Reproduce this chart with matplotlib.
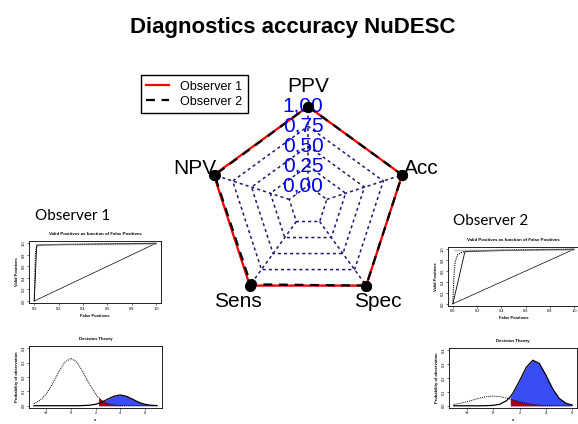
import numpy as np
import matplotlib
matplotlib.use("Agg")
import matplotlib.pyplot as plt
from matplotlib.lines import Line2D

# radar data (clockwise from top)
axis_labels = ["PPV", "Acc", "Spec", "Sens", "NPV"]
observer1 = [1.00, 1.00, 1.00, 1.00, 1.00]
observer2 = [1.00, 1.00, 1.00, 0.98, 0.99]
level_labels = ["0,00", "0,25", "0,50", "0,75", "1,00"]

# ROC insets: false positives / valid positives
roc1_fp = [0, 0.02, 1.0]
roc1_tp = [0, 0.97, 1.0]
roc1_dot_fp = [0, 0.005, 0.01, 0.02, 0.05, 0.2, 0.5, 1.0]
roc1_dot_tp = [0, 0.50, 0.85, 0.95, 0.97, 0.98, 0.99, 1.0]
roc2_fp = [0, 0.10, 1.0]
roc2_tp = [0, 0.96, 1.0]
roc2_dot_fp = [0, 0.01, 0.02, 0.04, 0.08, 0.2, 0.5, 1.0]
roc2_dot_tp = [0, 0.55, 0.78, 0.90, 0.95, 0.97, 0.99, 1.0]
diag = [0, 1]

# decision theory insets
dt1_x = [-3, -2.5, -2, -1.5, -1, -0.5, 0, 0.5, 1, 1.5, 2, 2.25, 2.5, 3, 3.5, 4,
         4.5, 5, 5.5, 6, 6.5, 7]
dt1_noise = [0.014, 0.038, 0.082, 0.151, 0.233, 0.303, 0.330, 0.303, 0.233, 0.151,
             0.082, 0.057, 0.038, 0.014, 0.005, 0.001, 0, 0, 0, 0, 0, 0]
dt1_signal = [0, 0, 0, 0, 0, 0, 0, 0, 0.001, 0.003, 0.010, 0.016, 0.024, 0.046,
              0.066, 0.075, 0.066, 0.046, 0.024, 0.010, 0.003, 0.001]
dt1_thresh = 2.25

dt2_x = [-3, -2.5, -2, -1.5, -1, -0.5, 0, 0.5, 1, 1.3, 1.5, 2, 2.5, 3, 3.5, 4,
         4.5, 5, 5.5, 6]
dt2_noise = [0.010, 0.018, 0.029, 0.043, 0.056, 0.066, 0.070, 0.066, 0.056, 0.048,
             0.043, 0.029, 0.018, 0.010, 0.005, 0.002, 0.001, 0, 0, 0]
dt2_signal = [0, 0, 0, 0, 0, 0.001, 0.003, 0.011, 0.036, 0.065, 0.092, 0.180, 0.276,
              0.328, 0.305, 0.220, 0.124, 0.054, 0.019, 0.005]
dt2_thresh = 1.3

W, H = 578, 424
fig = plt.figure(figsize=(W / 100, H / 100), dpi=100)
plt.rcParams['font.family'] = ['Liberation Sans', 'DejaVu Sans']


def px_axes(x0, y0, x1, y1):
    # axes from pixel box (top-left origin)
    return fig.add_axes([x0 / W, 1 - y1 / H, (x1 - x0) / W, (y1 - y0) / H])


fig.text(0.506, 1 - 28 / H, "Diagnostics accuracy NuDESC", ha="center", va="center",
         fontsize=16, fontweight="bold")

# ---- radar ----
cx, cy, R = 308, 205.5, 99
ax = px_axes(cx - 1.5 * R, cy - 1.5 * R, cx + 1.5 * R, cy + 1.5 * R)
ax.set_xlim(-1.5, 1.5)
ax.set_ylim(-1.5, 1.5)
ax.axis("off")

n = len(axis_labels)
ang = np.pi / 2 - 2 * np.pi * np.arange(n) / n
seg = len(level_labels) - 1


def scale(v):
    return (1 + seg * np.asarray(v)) / (seg + 1)


grid_col = "#1a1a6e"
for i in range(seg + 1):
    r = (i + 1) / (seg + 1)
    xs = np.append(r * np.cos(ang), r * np.cos(ang[0]))
    ys = np.append(r * np.sin(ang), r * np.sin(ang[0]))
    ax.plot(xs, ys, color=grid_col, lw=1.1, ls=(0, (2, 2)))
for a in ang:
    r0 = 1 / (seg + 1)
    ax.plot([r0 * np.cos(a), np.cos(a)], [r0 * np.sin(a), np.sin(a)],
            color=grid_col, lw=1.1, ls=(0, (2, 2)))

for vals, col, ls in [(observer1, "red", "-"), (observer2, "black", (0, (4, 3)))]:
    r = scale(vals)
    xs = np.append(r * np.cos(ang), r[0] * np.cos(ang[0]))
    ys = np.append(r * np.sin(ang), r[0] * np.sin(ang[0]))
    ax.plot(xs, ys, color=col, lw=1.6, ls=ls)
    ax.plot(r * np.cos(ang), r * np.sin(ang), "o", color="black", ms=7, zorder=5)

for i, lab in enumerate(level_labels):
    ax.text(-0.05, (i + 1) / (seg + 1), lab, color="#0000ee", fontsize=15,
            ha="center", va="center")
for a, lab in zip(ang, axis_labels):
    ax.text(1.2 * np.cos(a), 1.2 * np.sin(a), lab, fontsize=15, ha="center", va="center")

handles = [Line2D([], [], color="red", lw=1.6),
           Line2D([], [], color="black", lw=1.6, ls=(0, (4, 3)))]
fig.legend(handles, ["Observer 1", "Observer 2"], loc="upper left",
           bbox_to_anchor=(140.7 / W, 1 - 75 / H), borderaxespad=0, fontsize=9,
           fancybox=False, edgecolor="black", framealpha=1, handlelength=1.8,
           handletextpad=0.9, labelspacing=0.25, borderpad=0.45)

# ---- insets ----
fig.text(35 / W, 1 - 216 / H, "Observer 1", fontsize=11, family="Lato", va="center")
fig.text(453 / W, 1 - 221 / H, "Observer 2", fontsize=11, family="Lato", va="center")


def style_small(a, title, xlabel, ylabel):
    a.set_title(title, fontsize=3.2, fontweight="bold", pad=4)
    a.tick_params(labelsize=2.8, length=1.5, width=0.4, pad=1)
    for s in a.spines.values():
        s.set_linewidth(0.6)
    a.set_xlabel(xlabel, fontsize=3, fontweight="bold", labelpad=2)
    a.set_ylabel(ylabel, fontsize=3, fontweight="bold", labelpad=2)
    for t in a.get_yticklabels():
        t.set_rotation(90)
        t.set_va("center")


def roc(box, fp, tp, dfp, dtp):
    a = px_axes(*box)
    a.plot(diag, diag, color="black", lw=0.5)
    a.plot(fp, tp, color="black", lw=0.6)
    a.plot(dfp, dtp, color="black", lw=0.8, ls=(0, (1, 1)))
    a.plot([0.02, 1.0], [0.975, 0.985], color="#999999", lw=1.2, alpha=0.6)
    a.set_xlim(-0.04, 1.04)
    a.set_ylim(-0.04, 1.04)
    a.set_xticks([0, 0.2, 0.4, 0.6, 0.8, 1.0])
    a.set_yticks([0, 0.2, 0.4, 0.6, 0.8, 1.0])
    style_small(a, "Valid Positives as function of False Positives",
                "False Positives", "Valid Positives")


def decision(box, x, noise, signal, thr, xlim):
    a = px_axes(*box)
    x = np.asarray(x)
    noise = np.asarray(noise)
    signal = np.asarray(signal)
    m = x >= thr
    a.fill_between(x, 0, signal, where=m, color="#3a4cf5", lw=0)
    a.fill_between(x, 0, noise, where=m, color="#a00018", lw=0)
    a.plot(x, noise, color="black", lw=0.7, ls=(0, (1, 1)))
    a.plot(x, signal, color="black", lw=0.9)
    a.set_xlim(*xlim)
    a.set_ylim(-0.016, 0.416)
    a.set_xticks([-2, 0, 2, 4, 6])
    a.set_yticks([0, 0.1, 0.2, 0.3, 0.4])
    style_small(a, "Decision Theory", "x", "Probability of observation")


roc((29.4, 241, 160.9, 303.3), roc1_fp, roc1_tp, roc1_dot_fp, roc1_dot_tp)
roc((448, 247, 579, 306), roc2_fp, roc2_tp, roc2_dot_fp, roc2_dot_tp)
decision((29, 346, 162, 408), dt1_x, dt1_noise, dt1_signal, dt1_thresh, (-3.4, 7.4))
decision((449, 348, 577, 408), dt2_x, dt2_noise, dt2_signal, dt2_thresh, (-3.36, 6.36))

fig.savefig("out.png", dpi=100)
